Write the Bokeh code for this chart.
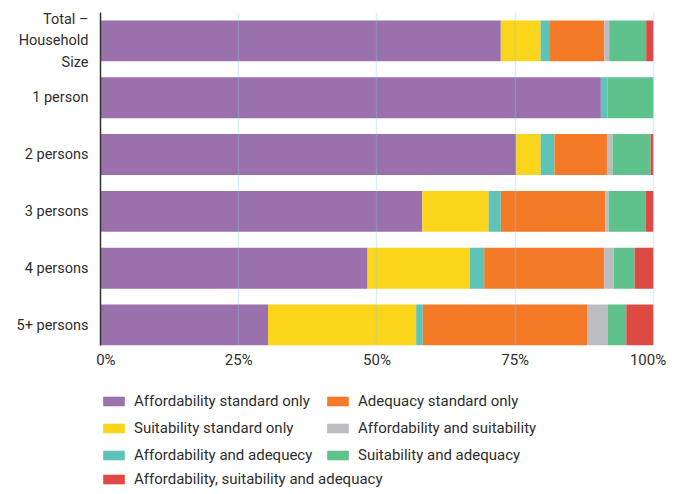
from bokeh.plotting import figure
from bokeh.layouts import column
from bokeh.models import (ColumnDataSource, Range1d, Legend, LegendItem,
                          FixedTicker, CustomJSTickFormatter)
from bokeh.embed import file_html
from bokeh.resources import INLINE

categories = ["Total –\nHousehold\nSize", "1 person", "2 persons", "3 persons", "4 persons", "5+ persons"]
aff_only = [72.4, 90.5, 75.2, 58.2, 48.3, 30.3]
suit_only = [7.2, 0.0, 4.4, 12.0, 18.5, 26.8]
aff_adeq = [1.7, 1.2, 2.5, 2.2, 2.6, 1.2]
adeq_only = [9.8, 0.0, 9.5, 18.9, 21.7, 29.7]
aff_suit = [0.9, 0.0, 1.0, 0.6, 1.7, 3.7]
suit_adeq = [6.7, 8.3, 6.9, 6.7, 3.8, 3.4]
all_three = [1.3, 0.0, 0.5, 1.4, 3.4, 4.9]

series_keys = ["aff_only", "suit_only", "aff_adeq", "adeq_only", "aff_suit", "suit_adeq", "all_three"]
series_labels = ["Affordability standard only", "Suitability standard only", "Affordability and adequecy",
                 "Adequacy standard only", "Affordability and suitability", "Suitability and adequacy",
                 "Affordability, suitability and adequacy"]
colors = ["#9a71ad", "#fbd51b", "#5fc4b8", "#f47a28", "#bcbdc0", "#5fc18c", "#dd4a44"]
x_ticks = [0, 25, 50, 75, 100]

FONT = "Roboto"
TXT = "#2e2e2e"
BAR_H = 0.72

pos = list(range(len(categories)))
source = ColumnDataSource(dict(pos=pos, aff_only=aff_only, suit_only=suit_only, aff_adeq=aff_adeq,
                               adeq_only=adeq_only, aff_suit=aff_suit, suit_adeq=suit_adeq,
                               all_three=all_three))

p = figure(width=681, height=375, output_backend="svg", toolbar_location=None,
           y_range=Range1d(len(categories) - 1 + BAR_H / 2, -0.5), x_range=Range1d(0, 100.2),
           min_border_left=100, min_border_right=27, min_border_top=12, min_border_bottom=30)
p.outline_line_color = None
p.background_fill_color = "white"

renderers = p.hbar_stack(series_keys, y="pos", height=BAR_H, color=colors, source=source, line_width=0)

# grid on top of bars
p.xgrid.ticker = FixedTicker(ticks=x_ticks)
p.xgrid.grid_line_color = "#7fd0ea"
p.xgrid.grid_line_alpha = 0.3
p.xgrid.grid_line_width = 1.5
p.xgrid.level = "overlay"
p.ygrid.grid_line_color = None

xa = p.xaxis[0]
xa.ticker = FixedTicker(ticks=x_ticks)
xa.formatter = CustomJSTickFormatter(code="""
if (tick == 0) return '\\u2002\\u20090%';
if (tick == 100) return '100%\\u2002\\u2009';
return tick.toFixed(0) + '%';
""")
xa.axis_line_color = None
xa.major_tick_line_color = None
xa.minor_tick_line_color = None
xa.major_tick_out = 0
xa.major_tick_in = 0
xa.major_label_standoff = 5
xa.major_label_text_font = FONT
xa.major_label_text_font_size = "15px"
xa.major_label_text_color = TXT

ya = p.yaxis[0]
ya.ticker = FixedTicker(ticks=pos)
ya.major_label_overrides = {i: c for i, c in zip(pos, categories)}
ya.axis_line_color = "#333333"
ya.axis_line_width = 1.5
ya.major_tick_line_color = None
ya.minor_tick_line_color = None
ya.major_tick_out = 0
ya.major_tick_in = 0
ya.major_label_standoff = 12
ya.major_label_text_font = FONT
ya.major_label_text_font_size = "14.5px"
ya.major_label_text_color = TXT
ya.major_label_text_line_height = 1.25

# legend in its own strip below
lg = figure(width=681, height=119, output_backend="svg", toolbar_location=None,
            x_range=Range1d(0, 1), y_range=Range1d(0, 1),
            min_border_left=95, min_border_right=0, min_border_top=17, min_border_bottom=0)
lg.outline_line_color = None
lg.axis.visible = False
lg.grid.visible = False
swatches = [lg.hbar(y=[-10], left=[0], right=[1], height=BAR_H, color=c, line_width=0) for c in colors]

common = dict(glyph_width=27, glyph_height=12, label_standoff=7, spacing=9,
              label_width=181, padding=0, margin=0, border_line_color=None,
              background_fill_alpha=0, label_text_font=FONT, label_text_font_size="15px",
              label_text_color=TXT)

# two columns: col 1 = purple, yellow, teal ; col 2 = orange, gray, green
order = [0, 1, 2, 3, 4, 5]
legend1 = Legend(items=[LegendItem(label=series_labels[i], renderers=[swatches[i]]) for i in order],
                 ncols=2, location="top_left", orientation="vertical", **common)
legend2 = Legend(items=[LegendItem(label=series_labels[6], renderers=[swatches[6]])],
                 location=(0, 6), orientation="vertical", **common)
lg.add_layout(legend1, "center")
lg.add_layout(legend2, "center")

layout = column(p, lg, spacing=0)
open("out.html", "w").write(file_html(layout, INLINE))
